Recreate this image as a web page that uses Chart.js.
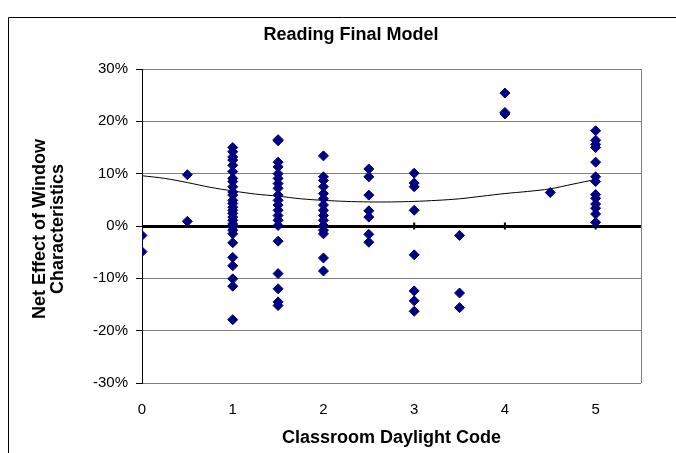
<!DOCTYPE html>
<html>
<head>
<meta charset="utf-8">
<script src="https://cdn.jsdelivr.net/npm/chart.js@4"></script>
<style>
  html, body { margin: 0; padding: 0; background: #fff; }
  canvas { display: block; }
</style>
</head>
<body>
<canvas id="chart" width="676" height="453"></canvas>
<script>
// daylight codes and net effect (%) read per code
const codes = [0, 0.5, 1, 1.5, 2, 2.5, 3, 3.5, 4, 4.5, 5];
const effect0 = [-1.8, -4.9];
const effect05 = [9.8, 0.9];
const effect1 = [15.0, 14.2, 13.2, 12.6, 11.6, 10.4, 9.1, 8.5, 7.5, 6.5, 5.9, 4.9, 4.3, 3.6, 3.0, 2.4, 1.7, 1.1, 0.4, -0.2, -0.8, -1.5, -3.2, -6.0, -7.6, -10.1, -11.5, -17.9];
const effect15 = [16.5, 16.3, 12.2, 11.3, 10.0, 9.1, 8.1, 7.2, 5.9, 4.9, 4.0, 3.0, 2.0, 1.1, 0.1, -2.9, -9.1, -12.0, -14.5, -15.2];
const effect2 = [13.4, 9.4, 8.7, 7.5, 6.2, 5.2, 4.0, 3.0, 2.0, 1.1, 0.1, -0.8, -1.5, -6.1, -8.6];
const effect25 = [10.9, 9.4, 5.9, 2.9, 1.7, -1.6, -3.1];
const effect3 = [10.1, 8.2, 7.5, 3.0, -5.5, -12.4, -14.3, -16.3];
const effect35 = [-1.8, -12.8, -15.6];
const effect4 = [25.4, 21.7, 21.4];
const effect45 = [6.4];
const effect5 = [18.2, 16.4, 15.6, 15.0, 12.2, 9.4, 8.5, 6.0, 5.3, 4.2, 3.4, 2.3, 0.7];
const effectsByCode = [effect0, effect05, effect1, effect15, effect2, effect25, effect3, effect35, effect4, effect45, effect5];

// trend line
const trendX = [0, 0.25, 0.5, 0.75, 1, 1.25, 1.5, 1.75, 2, 2.25, 2.5, 2.75, 3, 3.25, 3.5, 3.75, 4, 4.25, 4.5, 4.75, 5];
const trendY = [9.6, 9.1, 8.3, 7.4, 6.7, 6.1, 5.7, 5.2, 4.9, 4.7, 4.6, 4.6, 4.7, 4.9, 5.2, 5.7, 6.2, 6.6, 7.1, 8.0, 8.9];

const xTicks = [0, 1, 2, 3, 4, 5];
const yTicks = [-30, -20, -10, 0, 10, 20, 30];

const points = [];
codes.forEach((c, i) => effectsByCode[i].forEach(v => points.push({ x: c, y: v })));

const FONT = '"Liberation Sans", Arial, sans-serif';

const framePlugin = {
  id: 'frame',
  beforeDraw(chart) {
    const ctx = chart.ctx;
    const a = chart.chartArea;
    ctx.save();
    ctx.fillStyle = '#fff';
    ctx.fillRect(0, 0, chart.width, chart.height);
    ctx.strokeStyle = '#000';
    ctx.lineWidth = 1;
    ctx.beginPath();
    ctx.moveTo(8.5, chart.height);
    ctx.lineTo(8.5, 17.5);
    ctx.lineTo(chart.width, 17.5);
    ctx.stroke();
    ctx.strokeStyle = '#808080';
    ctx.beginPath();
    ctx.moveTo(Math.round(a.right) + 0.5, a.top);
    ctx.lineTo(Math.round(a.right) + 0.5, a.bottom);
    ctx.stroke();
    ctx.restore();
  },
  afterDraw(chart) {
    const ctx = chart.ctx;
    const a = chart.chartArea;
    ctx.save();
    ctx.fillStyle = '#000';
    ctx.textAlign = 'center';
    ctx.textBaseline = 'middle';
    ctx.font = 'bold 18px ' + FONT;
    ctx.fillText('Reading Final Model', 351, 35);
    ctx.fillText('Classroom Daylight Code', (a.left + a.right) / 2, 438);
    ctx.translate(0, 229);
    ctx.rotate(-Math.PI / 2);
    ctx.fillText('Net Effect of Window', 0, 40);
    ctx.fillText('Characteristics', 0, 58);
    ctx.restore();
  }
};

new Chart(document.getElementById('chart'), {
  type: 'scatter',
  data: {
    datasets: [
      {
        label: 'Net effect',
        data: points,
        pointStyle: 'rectRot',
        pointRadius: 5,
        backgroundColor: '#000080',
        borderColor: '#000080',
        borderWidth: 1,
        order: 1
      },
      {
        label: 'Trend',
        data: trendX.map((x, i) => ({ x: x, y: trendY[i] })),
        showLine: true,
        borderColor: '#000',
        borderWidth: 1,
        pointRadius: 0,
        tension: 0.3,
        order: 2
      },
      {
        label: 'Axis ticks',
        data: xTicks.map(x => ({ x: x, y: 0 })),
        pointStyle: 'line',
        rotation: 90,
        pointRadius: 3.5,
        borderColor: '#000',
        borderWidth: 2,
        order: 3
      }
    ]
  },
  options: {
    responsive: false,
    animation: false,
    devicePixelRatio: 1,
    layout: { padding: { top: 69, right: 35, left: 0, bottom: 0 } },
    plugins: {
      legend: { display: false },
      tooltip: { enabled: false },
      title: { display: false }
    },
    scales: {
      x: {
        type: 'linear',
        min: 0,
        max: 5.5,
        afterFit: s => { s.height = 70; },
        afterBuildTicks: s => { s.ticks = xTicks.map(v => ({ value: v })); },
        grid: { display: false, drawTicks: false },
        border: { display: false },
        ticks: {
          padding: 18,
          color: '#000',
          font: { family: FONT, size: 15 }
        }
      },
      y: {
        min: -30,
        max: 30,
        afterFit: s => { s.width = 142; },
        afterBuildTicks: s => { s.ticks = yTicks.map(v => ({ value: v })); },
        grid: {
          color: c => c.tick && c.tick.value === 0 ? '#000' : '#808080',
          lineWidth: c => c.tick && c.tick.value === 0 ? 3 : 1,
          tickColor: '#000',
          tickWidth: 1,
          tickLength: 6
        },
        border: { display: true, color: '#000', width: 1 },
        ticks: {
          padding: 8,
          color: '#000',
          font: { family: FONT, size: 15 },
          callback: v => v + '%'
        }
      }
    }
  },
  plugins: [framePlugin]
});
</script>
</body>
</html>
